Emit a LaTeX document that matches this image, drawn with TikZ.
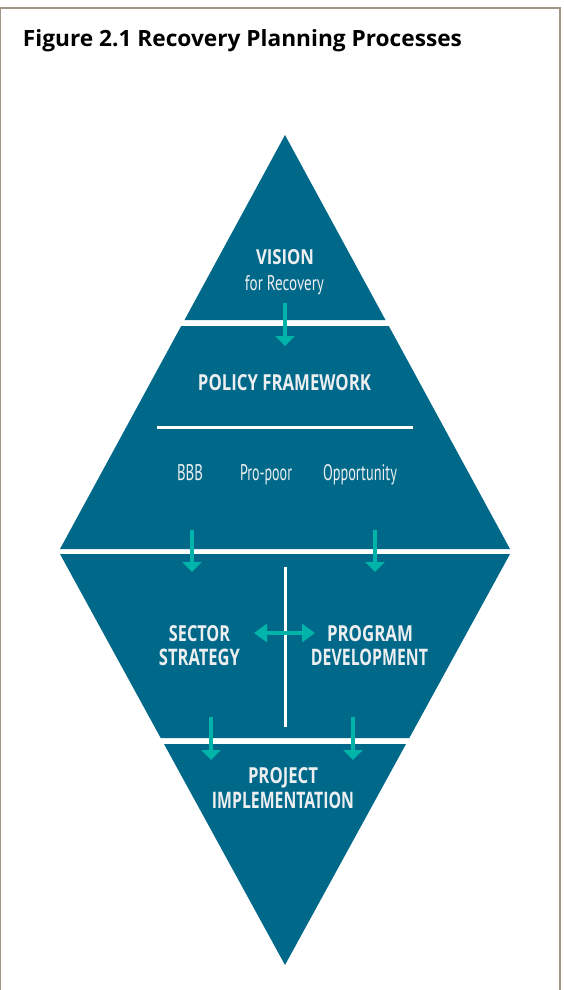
\documentclass[tikz,border=0pt]{standalone}
\usepackage{fontspec}
\setmainfont{PT Sans}
\newfontfamily\heavyfont{Open Sans}
\usepackage{graphicx}
\usetikzlibrary{arrows.meta}
\definecolor{diamondblue}{RGB}{0,105,138}
\definecolor{arrowteal}{RGB}{0,180,170}
\definecolor{labelwhite}{RGB}{236,238,240}
\definecolor{framegray}{RGB}{160,150,135}
\newcommand{\fitlabel}[3]{\resizebox{#1pt}{#2pt}{#3}}
\begin{document}
\begin{tikzpicture}[x=1pt,y=-1pt,
  panel/.style={fill=diamondblue,draw=none},
  flowarrow/.style={draw=arrowteal,line width=4pt,-{Triangle[width=19pt,length=10pt]}},
  twoway/.style={draw=arrowteal,line width=4pt,{Triangle[width=18pt,length=13pt]}-{Triangle[width=18pt,length=13pt]}},
  divider/.style={draw=white,line width=3pt},
  boldlbl/.style={anchor=base,inner sep=0pt,text=labelwhite,font=\heavyfont\bfseries},
  plainlbl/.style={anchor=base,inner sep=0pt,text=labelwhite},
  titlelbl/.style={anchor=base,inner sep=0pt,text=black,font=\heavyfont\bfseries},
  framestyle/.style={draw=framegray,line width=1.3pt}
]
\useasboundingbox (0,0) rectangle (564,990);
\fill[white] (0,0) rectangle (564,990);
% frame
\draw[framestyle] (0.7,990) -- (0.7,8) -- (560,8) -- (560,990);
% title
\node[titlelbl] (title) at (242.5,47) {\fitlabel{439}{17}{Figure 2.1 Recovery Planning Processes}};
% diamond pieces
\fill[panel] (285,135) -- (385.5,320) -- (184.5,320) -- cycle;
\fill[panel] (181.2,326) -- (388.8,326) -- (510,549) -- (60,549) -- cycle;
\fill[panel] (60,554) -- (510,554) -- (409.3,738) -- (160.7,738) -- cycle;
\fill[panel] (164,744) -- (406,744) -- (285,965) -- cycle;
% divider lines
\coordinate (pl) at (157,427);
\coordinate (pr) at (413,427);
\draw[divider] (pl) -- (pr);
\coordinate (vt) at (285,567);
\coordinate (vb) at (285,727);
\draw[divider] (vt) -- (vb);
% labels
\node[boldlbl] (vision) at (285,264) {\fitlabel{58}{15}{VISION}};
\node[plainlbl] (forrec) at (284.5,290) {\fitlabel{79}{15}{for Recovery}};
\node[boldlbl] (policy) at (284.5,390) {\fitlabel{173}{16}{POLICY FRAMEWORK}};
\node[plainlbl] (bbb) at (190,480) {\fitlabel{26}{16}{BBB}};
\node[plainlbl] (propoor) at (266,480) {\fitlabel{52}{16}{Pro-poor}};
\node[plainlbl] (opp) at (360,480) {\fitlabel{74}{16}{Opportunity}};
\node[boldlbl] (sector) at (199.5,641) {\fitlabel{61}{16}{SECTOR}};
\node[boldlbl] (strategy) at (199.5,665.5) {\fitlabel{81}{16.5}{STRATEGY}};
\node[boldlbl] (program) at (370,641) {\fitlabel{86}{16}{PROGRAM}};
\node[boldlbl] (develop) at (369.5,665.5) {\fitlabel{117}{16.5}{DEVELOPMENT}};
\node[boldlbl] (project) at (283,783) {\fitlabel{70}{16}{PROJECT}};
\node[boldlbl] (implem) at (283,808) {\fitlabel{142}{16.5}{IMPLEMENTATION}};
% arrows
\coordinate (a1s) at (285,303);
\coordinate (a1e) at (285,346);
\draw[flowarrow] (a1s) -- (a1e);
\coordinate (a2s) at (192,530);
\coordinate (a2e) at (192,572);
\draw[flowarrow] (a2s) -- (a2e);
\coordinate (a3s) at (375,530);
\coordinate (a3e) at (375,572);
\draw[flowarrow] (a3s) -- (a3e);
\coordinate (a4s) at (211,717);
\coordinate (a4e) at (211,760);
\draw[flowarrow] (a4s) -- (a4e);
\coordinate (a5s) at (353,717);
\coordinate (a5e) at (353,760);
\draw[flowarrow] (a5s) -- (a5e);
\coordinate (dl) at (254,633);
\coordinate (dr) at (315,633);
\draw[twoway] (dl) -- (dr);
\end{tikzpicture}
\end{document}
